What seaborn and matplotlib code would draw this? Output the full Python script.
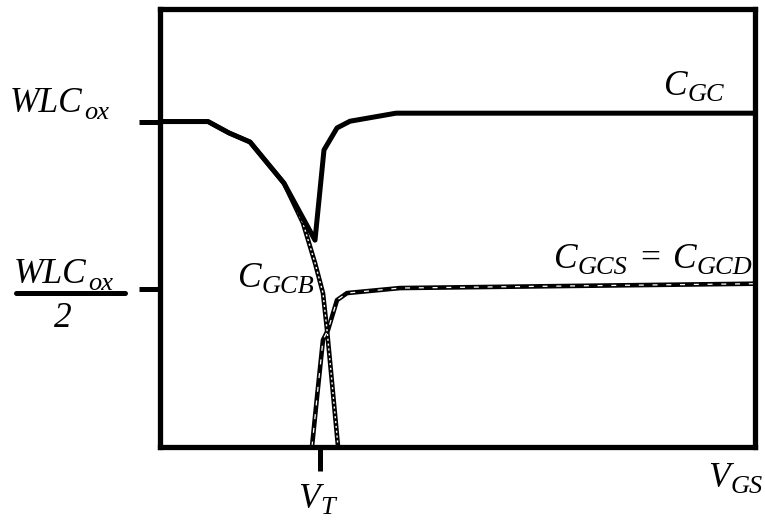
import numpy as np
import pandas as pd
import seaborn as sns
import matplotlib.pyplot as plt
from matplotlib.lines import Line2D

sns.set_style("white")
plt.rcParams['font.family'] = ['Liberation Serif', 'DejaVu Serif']
plt.rcParams['text.color'] = 'black'

# Gate capacitance vs. gate-source voltage (normalised: 1.0 = WLCox)
vgs_gc = [0.0, 0.807, 1.160, 1.513, 2.084, 2.605, 2.756, 2.975, 3.193, 3.966, 10.0]
c_gc = [1.0, 1.0, 0.966, 0.939, 0.816, 0.646, 0.915, 0.981, 1.001, 1.025, 1.025]

vgs_gcb = [0.0, 0.807, 1.160, 1.513, 2.084, 2.403, 2.605, 2.739, 2.807, 2.992]
c_gcb = [1.0, 1.0, 0.966, 0.939, 0.816, 0.697, 0.578, 0.488, 0.378, 0.03]

vgs_gcs = [2.555, 2.639, 2.739, 2.824, 2.975, 3.143, 4.034, 10.0]
c_gcs = [0.03, 0.178, 0.348, 0.378, 0.467, 0.488, 0.503, 0.516]

v_t = 2.689
y_ticks = [0.5, 1.0]

W, H = 765, 521
fig = plt.figure(figsize=(W / 100, H / 100), dpi=100)
ax = fig.add_axes([160 / W, 1 - 446.5 / H, 595 / W, 437.5 / H])

gcb = pd.DataFrame({"VGS": vgs_gcb, "C": c_gcb})
gcs = pd.DataFrame({"VGS": vgs_gcs, "C": c_gcs})
gc = pd.DataFrame({"VGS": vgs_gc, "C": c_gc})

# body capacitance: black line with short white dots
sns.lineplot(data=gcb, x="VGS", y="C", ax=ax, color="black", lw=3.3,
             sort=False, estimator=None, zorder=2)
sns.lineplot(data=gcb, x="VGS", y="C", ax=ax, color="white", lw=1.0,
             sort=False, estimator=None, zorder=2.1)
ax.lines[-1].set_linestyle((0, (1.5, 2.0)))

# source/drain capacitance: black line with longer white dashes
sns.lineplot(data=gcs, x="VGS", y="C", ax=ax, color="black", lw=3.3,
             sort=False, estimator=None, zorder=2)
sns.lineplot(data=gcs, x="VGS", y="C", ax=ax, color="white", lw=0.9,
             sort=False, estimator=None, zorder=2.1)
ax.lines[-1].set_linestyle((0, (4, 7)))

# total gate capacitance
sns.lineplot(data=gc, x="VGS", y="C", ax=ax, color="black", lw=3.6,
             sort=False, estimator=None, zorder=3)

ax.set_xlim(0, 10)
ax.set_ylim(0.03, 1.336)
ax.set_xlabel("")
ax.set_ylabel("")
ax.set_xticks([v_t])
ax.set_xticklabels([])
ax.set_yticks(y_ticks)
ax.set_yticklabels([])
ax.tick_params(axis="y", left=True, length=15, width=3.6, direction="out", color="black")
ax.tick_params(axis="x", bottom=True, length=17, width=3.6, direction="out", color="black")
for s in ax.spines.values():
    s.set_visible(True)
    s.set_linewidth(3.8)
    s.set_color("black")

renderer = fig.canvas.get_renderer()
FS, SFS = 25.5, 19


def chain(x, y, parts, drop=6):
    """Draw main-size and subscript pieces left to right (pixel coords).

    Each part is (text, kind) or (text, kind, x_start) to pin its position.
    """
    cur = x
    for part in parts:
        txt, kind = part[0], part[1]
        if len(part) > 2:
            cur = part[2]
        if kind == "sub":
            t = fig.text(cur / W, 1 - (y + drop) / H, txt, fontsize=SFS,
                         style="italic", va="baseline", color="black")
        elif kind == "op":
            t = fig.text(cur / W, 1 - y / H, txt, fontsize=FS,
                         va="baseline", color="black")
        else:
            t = fig.text(cur / W, 1 - y / H, txt, fontsize=FS,
                         style="italic", va="baseline", color="black")
        bb = t.get_window_extent(renderer)
        cur = bb.x1 + (1 if kind == "main" else 0)


chain(10, 112, [("WLC", "main"), ("ox", "sub")], drop=7)
chain(14, 283, [("WLC", "main"), ("ox", "sub")], drop=7)
fig.add_artist(Line2D([16 / W, 125 / W], [1 - 293 / H, 1 - 293 / H],
                      color="black", lw=3.6, transform=fig.transFigure))
fig.text(63 / W, 1 - 327 / H, "2", fontsize=FS, style="italic",
         ha="center", va="baseline", color="black")
chain(663, 95, [("C", "main"), ("GC", "sub")])
chain(553, 268, [("C", "main"), ("GCS", "sub"), ("=", "op", 640),
                 ("C", "main", 672), ("GCD", "sub")])
chain(237, 287, [("C", "main"), ("GCB", "sub")])
chain(298, 508, [("V", "main"), ("T", "sub")], drop=6)
chain(708, 487, [("V", "main"), ("GS", "sub")])

fig.savefig("out.png", dpi=100)
